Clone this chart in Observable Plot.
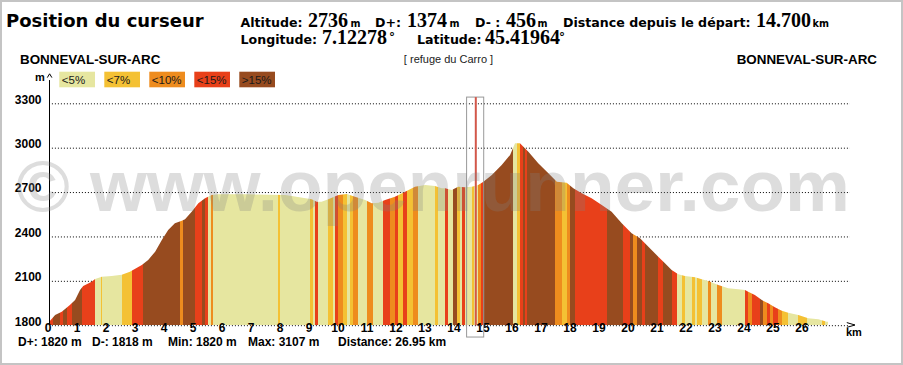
<!DOCTYPE html>
<html><head><meta charset="utf-8">
<script src="https://cdn.jsdelivr.net/npm/d3@7"></script>
<script src="https://cdn.jsdelivr.net/npm/@observablehq/plot@0.6"></script>
<style>
html,body{margin:0;padding:0;background:#fff;overflow:hidden}
#wrap{position:relative;width:903px;height:365px;background:#fff}
#wrap svg{position:absolute;left:0;top:0}
#frame{position:absolute;left:0;top:0;width:903px;height:365px;box-sizing:border-box;border:2px solid #c4c4c4;pointer-events:none}
</style></head><body>
<div id="wrap"></div>
<script>
// ---- data ----
const classLabels = ["<5%", "<7%", "<10%", "<15%", ">15%"];
const classColors = ["#e6e6a0", "#f4c134", "#ee8c1e", "#e8401a", "#974b1f"];

const profileKm = [0, 0.21, 0.44, 0.72, 0.90, 1.07, 1.18, 1.47, 1.59, 1.82, 2.16, 2.51, 2.79, 3.20, 3.42, 3.66, 3.89, 4.11, 4.34, 4.58, 4.69, 4.92, 5.15, 5.38, 5.61, 5.84, 6.76, 8.14, 8.37, 9.06, 9.23, 9.40, 9.63, 9.98, 10.27, 10.55, 10.90, 11.13, 11.36, 11.59, 11.93, 12.28, 12.62, 12.97, 13.31, 13.54, 13.66, 13.89, 14.11, 14.34, 14.58, 14.80, 14.98, 15.27, 15.61, 15.90, 16.07, 16.24, 16.53, 16.87, 17.22, 17.51, 17.85, 18.08, 18.37, 18.71, 19.06, 19.40, 19.75, 20.09, 20.38, 20.55, 20.78, 21.01, 21.24, 21.47, 21.70, 21.93, 22.28, 22.51, 22.73, 23.08, 23.42, 23.77, 24.00, 24.11, 24.34, 24.58, 24.80, 25.03, 25.27, 25.49, 25.84, 26.18, 26.53, 26.82, 26.86];
const profileElev = [1822, 1869, 1891, 1937, 1971, 2038, 2065, 2094, 2112, 2128, 2133, 2141, 2162, 2207, 2241, 2297, 2376, 2444, 2489, 2506, 2516, 2567, 2624, 2658, 2680, 2685, 2685, 2680, 2673, 2651, 2635, 2635, 2651, 2680, 2687, 2669, 2646, 2624, 2628, 2646, 2669, 2702, 2736, 2748, 2741, 2725, 2725, 2714, 2736, 2732, 2736, 2748, 2770, 2815, 2883, 2951, 3030, 3030, 2973, 2894, 2827, 2770, 2763, 2725, 2692, 2658, 2613, 2567, 2489, 2422, 2387, 2354, 2308, 2263, 2218, 2173, 2144, 2133, 2124, 2110, 2099, 2072, 2049, 2043, 2038, 2026, 2004, 1970, 1948, 1921, 1898, 1885, 1869, 1847, 1840, 1824, 1824];

// slope-class stripes: edges (km) and class index of each stripe
const stripeEdges = [0.00, 0.15, 0.38, 0.49, 0.61, 0.78, 1.13, 1.59, 1.78, 1.84, 2.51, 2.85, 3.25, 4.52, 4.61, 5.03, 5.27, 5.38, 5.49, 5.58, 5.64, 7.91, 7.98, 9.00, 9.09, 9.17, 9.29, 9.63, 9.78, 9.86, 9.98, 10.15, 10.27, 10.38, 10.49, 10.67, 10.96, 11.18, 11.53, 11.76, 11.93, 12.04, 12.22, 12.33, 12.56, 12.73, 13.31, 13.42, 13.66, 13.77, 13.94, 14.06, 14.17, 14.24, 14.34, 14.59, 14.64, 14.80, 14.90, 14.98, 16.01, 16.13, 16.24, 16.36, 16.41, 16.47, 17.45, 17.68, 17.85, 17.97, 18.14, 19.23, 19.80, 20.03, 20.15, 20.27, 20.44, 20.55, 21.01, 21.18, 21.47, 21.64, 21.82, 21.93, 22.16, 22.28, 22.33, 22.53, 22.71, 22.83, 23.02, 23.22, 24.00, 24.11, 24.25, 24.52, 24.63, 24.75, 24.86, 24.98, 25.15, 25.27, 25.49, 25.84, 26.13, 26.64, 26.76, 26.86];
const stripeClass = [3, 4, 3, 4, 3, 4, 3, 0, 1, 0, 1, 3, 4, 2, 4, 3, 4, 3, 0, 2, 0, 1, 0, 1, 0, 3, 0, 1, 0, 3, 2, 1, 0, 1, 2, 0, 2, 0, 3, 2, 3, 1, 3, 1, 2, 0, 1, 0, 3, 0, 4, 1, 0, 3, 0, 1, 0, 2, 3, 4, 0, 1, 3, 4, 3, 4, 2, 1, 2, 4, 3, 4, 3, 4, 2, 4, 3, 4, 3, 4, 3, 0, 1, 0, 1, 0, 1, 0, 2, 0, 2, 0, 3, 2, 3, 4, 2, 3, 2, 3, 2, 1, 0, 1, 0, 1, 0];

const xTicks = [0, 1, 2, 3, 4, 5, 6, 7, 8, 9, 10, 11, 12, 13, 14, 15, 16, 17, 18, 19, 20, 21, 22, 23, 24, 25, 26];
const yTicks = [1800, 2100, 2400, 2700, 3000, 3300];

const cursorKm = 14.7;
const cursorBox = [{x1: 14.40, x2: 14.99, y1: 1720, y2: 3342}];

const headerLine1 = [
  {label: "Altitude:", x: 240.5, value: "2736", vx: 308, unit: "m", ux: 350.5},
  {label: "D+:", x: 375, value: "1374", vx: 407, unit: "m", ux: 449.5},
  {label: "D- :", x: 475, value: "456", vx: 506, unit: "m", ux: 537.5},
  {label: "Distance depuis le départ:", x: 563, value: "14.700", vx: 756, unit: "km", ux: 812.5}
];
const headerLine2 = [
  {label: "Longitude:", x: 240.5, value: "7.12278", vx: 322, unit: "°", ux: 389},
  {label: "Latitude:", x: 417, value: "45.41964", vx: 485, unit: "°", ux: 559}
];
const stats = [
  {text: "D+: 1820 m", x: 18},
  {text: "D-: 1818 m", x: 92},
  {text: "Min: 1820 m", x: 168},
  {text: "Max: 3107 m", x: 248},
  {text: "Distance: 26.95 km", x: 338}
];

// ---- tables built from arrays ----
const profile = profileKm.map((k, i) => ({km: k, elev: profileElev[i]}));
const stripes = stripeClass.map((c, i) => ({x1: stripeEdges[i], x2: stripeEdges[i + 1], c}));

const FONT = "Liberation Sans, Arial, sans-serif";
const VFONT = "DejaVu Sans, Verdana, sans-serif";
const SFONT = "Liberation Serif, Times New Roman, serif";

const chart = Plot.plot({
  width: 903,
  height: 365,
  marginLeft: 49,
  marginRight: 100,
  marginTop: 103.3,
  marginBottom: 39.8,
  x: {domain: [0, 26], axis: null},
  y: {domain: [1800, 3300], axis: null},
  style: {background: "white", overflow: "visible"},
  marks: [
    Plot.ruleY(yTicks, {x1: 0.1, x2: 27.62, stroke: "#000", strokeWidth: 1, strokeDasharray: "1,2"}),
    Plot.rect(stripes, {x1: "x1", x2: "x2", y1: 1800, y2: 3150, fill: d => classColors[d.c], shapeRendering: "crispEdges"}),
    Plot.areaY(profile, {x: "km", y1: 1800, y2: "elev", fill: "black"}),
    Plot.ruleX([0], {y1: 1800, y2: 3457, stroke: "#000", strokeWidth: 1}),
    Plot.text(yTicks, {y: d => d, text: d => String(d), frameAnchor: "left", textAnchor: "end", dx: -8, dy: -4, fontFamily: FONT, fontWeight: "bold", fontSize: 12, fill: "#000"}),
    Plot.text(xTicks, {x: d => d, text: d => String(d), frameAnchor: "bottom", textAnchor: "middle", dx: -1.5, dy: 6, fontFamily: FONT, fontWeight: "bold", fontSize: 12, fill: "#000"}),
    Plot.rect(cursorBox, {x1: "x1", x2: "x2", y1: "y1", y2: "y2", fill: "none", stroke: "#999", strokeWidth: 1}),
    Plot.ruleX([cursorKm], {y1: 1800, y2: 3342, stroke: "#d2574a", strokeWidth: 2})
  ]
});

// clip the stripes by the profile area (marks are the svg's <g> children in order)
try {
  const svg = d3.select(chart);
  const areaG = svg.selectAll('g[aria-label="area"]').nodes()[0];
  const rectG = svg.selectAll('g[aria-label="rect"]').nodes()[0];
  if (areaG && rectG) {
    const areaPath = areaG.querySelector("path");
    const defs = svg.insert("defs", ":first-child");
    const cp = defs.append("clipPath").attr("id", "profile-clip").append("path").attr("d", areaPath.getAttribute("d"));
    const aT = areaG.getAttribute("transform");
    if (aT) cp.attr("transform", aT);
    const wrapper = document.createElementNS("http://www.w3.org/2000/svg", "g");
    rectG.parentNode.insertBefore(wrapper, rectG);
    wrapper.appendChild(rectG);
    wrapper.setAttribute("clip-path", "url(#profile-clip)");
    areaG.remove();
  }
} catch (e) { console.error(e); }

document.getElementById("wrap").appendChild(chart);

// ---- overlay: titles, legend, labels, watermark ----
const ov = d3.select("#wrap").append("svg").attr("width", 903).attr("height", 365).style("pointer-events", "none");

ov.append("text").attr("x", 6).attr("y", 27).attr("font-family", VFONT).attr("font-weight", "bold").attr("font-size", 18).text("Position du curseur");

function header(items, y) {
  for (const it of items) {
    ov.append("text").attr("x", it.x).attr("y", y).attr("font-family", VFONT).attr("font-weight", "bold").attr("font-size", 12.6).text(it.label);
    ov.append("text").attr("x", it.vx).attr("y", y).attr("font-family", SFONT).attr("font-weight", "bold").attr("font-size", 20).text(it.value);
    const deg = it.unit === "°";
    ov.append("text").attr("x", it.ux).attr("y", deg ? y - 3 : y).attr("font-family", VFONT).attr("font-weight", "bold").attr("font-size", deg ? 12 : 9.6).text(it.unit);
  }
}
header(headerLine1, 27);
header(headerLine2, 44);

ov.append("text").attr("x", 20).attr("y", 64).attr("font-family", FONT).attr("font-weight", "bold").attr("font-size", 13.4).text("BONNEVAL-SUR-ARC");
ov.append("text").attr("x", 877).attr("y", 64).attr("text-anchor", "end").attr("font-family", FONT).attr("font-weight", "bold").attr("font-size", 13.4).text("BONNEVAL-SUR-ARC");
ov.append("text").attr("x", 448.5).attr("y", 63).attr("text-anchor", "middle").attr("font-family", FONT).attr("font-size", 11).attr("fill", "#222").text("[ refuge du Carro ]");

// legend
classLabels.forEach((lab, i) => {
  const x0 = 59.3 + i * 45;
  ov.append("rect").attr("x", x0).attr("y", 71.7).attr("width", 35.7).attr("height", 15.6).attr("fill", classColors[i]);
  ov.append("text").attr("x", x0 + 2.5).attr("y", 84).attr("font-family", FONT).attr("font-size", 11.5).attr("fill", "#1a1a1a").text(lab);
});

// axis decorations
ov.append("text").attr("x", 35).attr("y", 80.5).attr("font-family", FONT).attr("font-weight", "bold").attr("font-size", 11).text("m");
ov.append("path").attr("d", "M47.3,77.6 L49.6,73.8 L51.9,77.6").attr("fill", "none").attr("stroke", "#000").attr("stroke-width", 1);
ov.append("path").attr("d", "M846.8,322.6 L855,325 L846.8,327.4").attr("fill", "none").attr("stroke", "#000").attr("stroke-width", 1);
ov.append("text").attr("x", 846).attr("y", 335.5).attr("font-family", FONT).attr("font-weight", "bold").attr("font-size", 11).text("km");

// stats line
for (const s of stats) {
  ov.append("text").attr("x", s.x).attr("y", 346).attr("font-family", FONT).attr("font-weight", "bold").attr("font-size", 12).text(s.text);
}

// watermark
ov.append("text").attr("x", 16).attr("y", 211).attr("font-family", FONT).attr("font-weight", "bold").attr("font-size", 73)
  .attr("fill", "#808080").attr("fill-opacity", 0.27).text("© www.openrunner.com");

d3.select("#wrap").append("div").attr("id", "frame");
</script>
</body></html>
